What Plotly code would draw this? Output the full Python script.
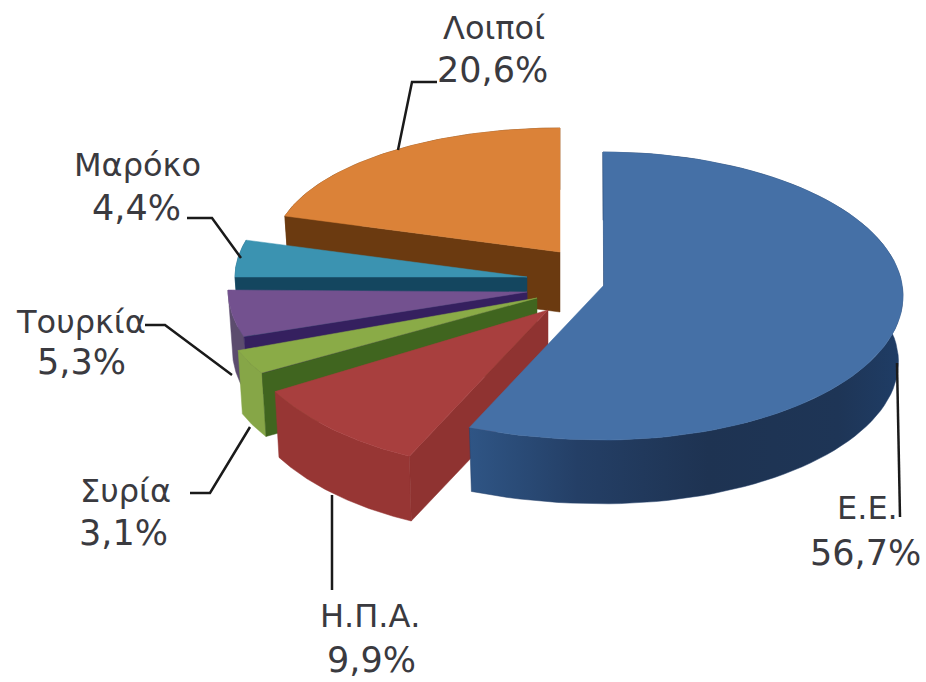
import numpy as np
import plotly.graph_objects as go

# ---- data ----
categories = ["Ε.Ε.", "Η.Π.Α.", "Συρία", "Τουρκία", "Μαρόκο", "Λοιποί"]
shares = [56.7, 9.9, 3.1, 5.3, 4.4, 20.6]

# ---- styles ----
top_colors = ["#4570a6", "#a83f3e", "#8aab47", "#73518f", "#3b93b1", "#db8238"]
rim_colors = ["#24406a", "#973634", "#86a647", "#5c4c6e", "#1b5a78", "#6b3a10"]
cut_colors = ["#24406a", "#8f3331", "#40651f", "#35205f", "#14465f", "#6b3a10"]

# ---- geometry of each exploded slice (apex x,y; rim centre x,y; radius right, radius left; radius back, front; depth)
geom = {
    "Ε.Ε.":    (604, 285, 603, 296, 300, 327, 144, 144, 66),
    "Η.Π.Α.":  (548, 310, 530, 312, 295, 295, 158, 158, 67),
    "Συρία":   (537, 298, 517, 308, 295, 295, 130, 130, 64),
    "Τουρκία": (527, 292, 520, 290, 292, 292, 144, 144, 60),
    "Μαρόκο":  (527, 277, 530, 277, 295, 295, 135, 135, 60),
    "Λοιποί":  (560, 252, 560, 249, 286, 286, 121, 121, 60),
}
draw_order = ["Λοιποί", "Μαρόκο", "Τουρκία", "Συρία", "Η.Π.Α.", "Ε.Ε."]

# ---- text placement (name x,y; share x,y) and leader lines ----
label_pos = {
    "Ε.Ε.":    (867, 508, 865, 553),
    "Η.Π.Α.":  (370, 616, 371, 660),
    "Συρία":   (125, 491, 123, 533),
    "Τουρκία": (81, 322, 81, 362),
    "Μαρόκο":  (137, 165, 136, 208),
    "Λοιποί":  (494, 28, 492, 70),
}
leaders = [
    [(437, 82), (412, 82), (398, 150)],
    [(187, 218), (212, 218), (241, 258)],
    [(145, 325), (165, 325), (232, 375)],
    [(190, 493), (210, 493), (250, 427)],
    [(332, 495), (332, 590)],
    [(897, 363), (900, 517)],
]

cum = np.cumsum([0] + shares)
total = cum[-1]
starts = {c: cum[i] / total * 2 * np.pi for i, c in enumerate(categories)}
ends = {c: cum[i + 1] / total * 2 * np.pi for i, c in enumerate(categories)}


def rim(name, shrink=1.0, drop=0.0):
    ax, ay, cx, cy, ar, al, bb, bf, d = geom[name]
    t = np.linspace(starts[name], ends[name], 90)
    s, c = np.sin(t), np.cos(t)
    x = cx + s * np.where(s >= 0, ar, al) * shrink
    y = cy - c * np.where(c >= 0, bb, bf) * shrink + drop
    return x, y


fig = go.Figure()


def poly(x, y, color, gradient=None):
    kw = dict(
        x=x, y=y, mode="lines", fill="toself",
        line=dict(color=color, width=0.5),
        hoverinfo="skip", showlegend=False,
    )
    if gradient:
        kw["fillgradient"] = dict(type="horizontal", colorscale=gradient)
    else:
        kw["fillcolor"] = color
    fig.add_trace(go.Scatter(**kw))


for name in draw_order:
    i = categories.index(name)
    ax, ay, cx, cy, ar, al, bb, bf, d = geom[name]
    x0, y0 = rim(name)
    x1, y1 = rim(name, shrink=0.985, drop=d)
    # outer wall
    grad = None
    if name == "Ε.Ε.":
        grad = [[0, "#2f5585"], [0.25, "#243f66"], [0.55, "#1e3352"], [0.85, "#1e3556"], [1, "#1f3d66"]]
    poly(np.r_[x0, x1[::-1], x0[0]], np.r_[y0, y1[::-1], y0[0]], rim_colors[i], grad)
    # visible cut face
    poly([ax, x0[0], x1[0], ax, ax], [ay, y0[0], y1[0], ay + d, ay], cut_colors[i])
    # top face
    poly(np.r_[ax, x0, ax], np.r_[ay, y0, ay], top_colors[i])

shapes = []
for pts in leaders:
    path = "M " + " L ".join(f"{x},{y}" for x, y in pts)
    shapes.append(dict(type="path", path=path, xref="x", yref="y",
                       line=dict(color="#1a1a1a", width=2.5)))

annotations = []
name_font = dict(family="DejaVu Sans", size=32, color="#3a3a3f")
value_font = dict(family="DejaVu Sans", size=35, color="#3a3a3f")
for name, v in zip(categories, shares):
    nx, ny, vx, vy = label_pos[name]
    annotations.append(dict(x=nx, y=ny, text=name, xref="x", yref="y", showarrow=False, font=name_font))
    annotations.append(dict(x=vx, y=vy, text=f"{v:.1f}%".replace(".", ","), xref="x", yref="y",
                            showarrow=False, font=value_font))

fig.update_layout(
    width=926, height=682,
    margin=dict(l=0, r=0, t=0, b=0),
    paper_bgcolor="white", plot_bgcolor="white",
    xaxis=dict(range=[0, 926], visible=False),
    yaxis=dict(range=[682, 0], visible=False),
    shapes=shapes, annotations=annotations,
    showlegend=False,
)
fig.write_html("out.html", config={"displayModeBar": False},
               post_script="document.body.style.margin='0';document.body.style.overflow='hidden';")
